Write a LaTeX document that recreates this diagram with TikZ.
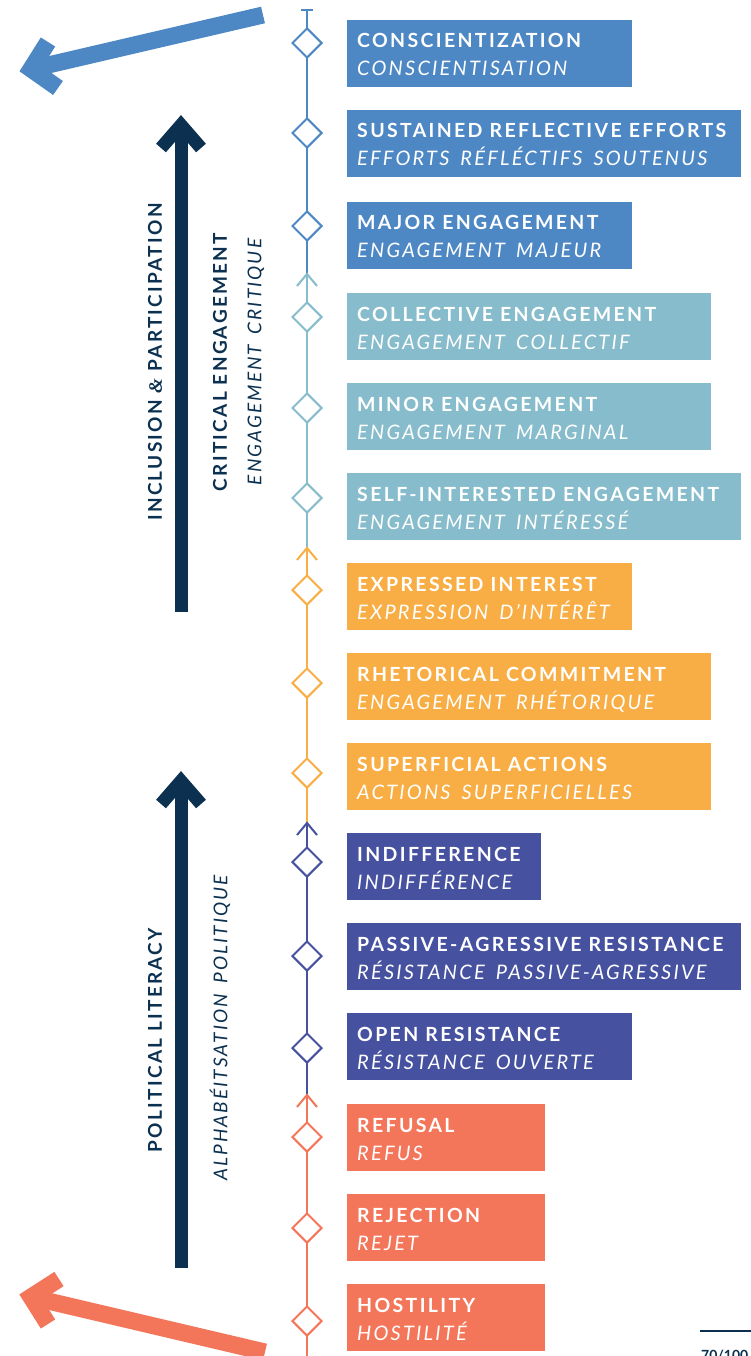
\documentclass[tikz,border=0pt]{standalone}
\usepackage{fontspec}
\setmainfont{Lato}
\newfontfamily\titlef{Lato}[LetterSpace=12]
\newfontfamily\subf{Lato}[LetterSpace=11,WordSpace=1.6]
\newfontfamily\ampf{Liberation Serif}
\usetikzlibrary{shapes.geometric}
\definecolor{cblue}{HTML}{4D87C4}
\definecolor{cteal}{HTML}{86BCCB}
\definecolor{corange}{HTML}{F8AE44}
\definecolor{cindigo}{HTML}{4652A0}
\definecolor{csalmon}{HTML}{F4765A}
\definecolor{cnavy}{HTML}{0B3050}
\begin{document}
\begin{tikzpicture}[x=1pt,y=-1pt,
  box/.style={rectangle,draw=none,inner sep=0pt,minimum height=67pt,anchor=north west},
  ttl/.style={text=white,font=\titlef\bfseries\fontsize{19.5}{22}\selectfont,anchor=base west,inner sep=0pt},
  sub/.style={text=white,font=\subf\itshape\fontsize{20}{22}\selectfont,anchor=base west,inner sep=0pt},
  dia/.style={diamond,draw=#1,fill=white,line width=2pt,minimum width=30pt,minimum height=30pt,inner sep=0pt},
  spine/.style={draw=#1,line width=2pt},
  chev/.style={draw=#1,line width=2pt},
  vlab/.style={text=cnavy,rotate=90,inner sep=0pt,font=\titlef\bfseries\fontsize{19}{22}\selectfont},
  vsub/.style={text=cnavy,rotate=90,inner sep=0pt,font=\subf\itshape\fontsize{19}{22}\selectfont},
  navyarrow/.style={draw=cnavy,line width=13pt},
  navyhead/.style={draw=cnavy,line width=13pt,miter limit=10},
  bigarrow/.style={draw=#1,line width=17pt,miter limit=10}
]
\useasboundingbox (0,0) rectangle (751,1356);

% spine
\coordinate (s0) at (307,10);
\coordinate (s1) at (307,274);
\coordinate (s2) at (307,548);
\coordinate (s3) at (307,823);
\coordinate (s4) at (307,1095);
\coordinate (s5) at (307,1360);
\draw[spine=cblue] (s0) -- (s1);
\draw[spine=cblue] (301,10) -- (313,10);
\draw[spine=cteal] (s1) -- (s2);
\draw[chev=cteal] (297,286) -- (s1) -- (317,286);
\draw[spine=corange] (s2) -- (s3);
\draw[chev=corange] (297,560) -- (s2) -- (317,560);
\draw[spine=cindigo] (s3) -- (s4);
\draw[chev=cindigo] (297,835) -- (s3) -- (317,835);
\draw[spine=csalmon] (s4) -- (s5);
\draw[chev=csalmon] (297,1107) -- (s4) -- (317,1107);

\foreach \i/\t/\d/\r/\c/\a/\b in {
 1/20/43/632/cblue/CONSCIENTIZATION/CONSCIENTISATION,
 2/110/133/741/cblue/SUSTAINED REFLECTIVE EFFORTS/EFFORTS RÉFLÉCTIFS SOUTENUS,
 3/202/226/632/cblue/MAJOR ENGAGEMENT/ENGAGEMENT MAJEUR,
 4/293/317/711/cteal/COLLECTIVE ENGAGEMENT/ENGAGEMENT COLLECTIF,
 5/383/408/711/cteal/MINOR ENGAGEMENT/ENGAGEMENT MARGINAL,
 6/473/498/741/cteal/SELF-INTERESTED ENGAGEMENT/ENGAGEMENT INTÉRESSÉ,
 7/563/590/632/corange/EXPRESSED INTEREST/EXPRESSION D’INTÉRÊT,
 8/653/683/711/corange/RHETORICAL COMMITMENT/ENGAGEMENT RHÉTORIQUE,
 9/743/773/711/corange/SUPERFICIAL ACTIONS/ACTIONS SUPERFICIELLES,
 10/833/862/541/cindigo/INDIFFERENCE/INDIFFÉRENCE,
 11/923/956/741/cindigo/PASSIVE-AGRESSIVE RESISTANCE/RÉSISTANCE PASSIVE-AGRESSIVE,
 12/1013/1048/632/cindigo/OPEN RESISTANCE/RÉSISTANCE OUVERTE,
 13/1104/1137/545/csalmon/REFUSAL/REFUS,
 14/1194/1228/545/csalmon/REJECTION/REJET,
 15/1284/1321/545/csalmon/HOSTILITY/HOSTILITÉ}{
  \node[box,fill=\c,minimum width={(\r-347)*1pt}] (b\i) at (347,\t) {};
  \node[ttl] (t\i) at (357,\t+28) {\a};
  \node[sub] (u\i) at (357,\t+56) {\b};
  \node[dia=\c] (d\i) at (307,\d) {};
}

% navy arrows
\coordinate (n1s) at (181,612);
\coordinate (n1t) at (181,128);
\draw[navyarrow] (n1s) -- (n1t);
\draw[navyhead] (161,148) -- (181,125) -- (201,148);
\coordinate (n2s) at (181,1268);
\coordinate (n2t) at (181,784);
\draw[navyarrow] (n2s) -- (n2t);
\draw[navyhead] (161,804) -- (181,781) -- (201,804);

% vertical labels
\node[vlab] (l1) at (155,362) {INCLUSION {\ampf\itshape\&} PARTICIPATION};
\node[vlab] (l2) at (220,362) {CRITICAL ENGAGEMENT};
\node[vsub] (l3) at (256,362) {ENGAGEMENT CRITIQUE};
\node[vlab] (l4) at (155,1040) {POLITICAL LITERACY};
\node[vsub] (l5) at (220,1028) {ALPHABÉITSATION POLITIQUE};

% big arrows
\coordinate (ba1s) at (263,15);
\coordinate (ba1t) at (31,69);
\draw[bigarrow=cblue] (ba1s) -- (ba1t);
\draw[bigarrow=cblue] (48,42) -- (31,69) -- (58,88);
\coordinate (ba2s) at (265,1352);
\coordinate (ba2t) at (31,1297);
\draw[bigarrow=csalmon] (ba2s) -- (ba2t);
\draw[bigarrow=csalmon] (59,1279) -- (31,1297) -- (48,1324);

% page number
\coordinate (p1) at (700,1331);
\coordinate (p2) at (751,1331);
\draw[cnavy,line width=2pt] (p1) -- (p2);
\node[anchor=north west,inner sep=0pt,text=cnavy,font=\bfseries\fontsize{14}{16}\selectfont] (pg) at (701,1350) {70/100};
\end{tikzpicture}
\end{document}
